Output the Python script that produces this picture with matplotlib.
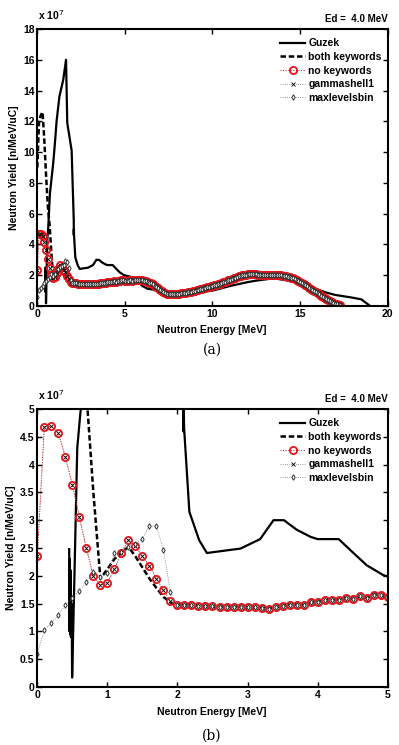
import numpy as np
import matplotlib
matplotlib.use("Agg")
import matplotlib.pyplot as plt

# ---------------- data (yield in units of 1e7 n/MeV/uC) ----------------
energy_grid = np.round(np.arange(0, 17.35, 0.1), 2)  # 0.0 .. 17.3 MeV bins

no_keywords = [
    2.36, 4.68, 4.69, 4.57, 4.14, 3.64, 3.06, 2.50, 1.99, 1.83,
    1.87, 2.12, 2.41, 2.65, 2.54, 2.35, 2.18, 1.95, 1.74, 1.54,
    1.48, 1.47, 1.47, 1.46, 1.45, 1.45, 1.44, 1.44, 1.44, 1.44,
    1.43, 1.43, 1.42, 1.41, 1.43, 1.46, 1.48, 1.48, 1.47, 1.52,
    1.53, 1.56, 1.56, 1.57, 1.60, 1.58, 1.63, 1.60, 1.66, 1.66,
    1.62, 1.63, 1.64, 1.66, 1.65, 1.67, 1.66, 1.68, 1.66, 1.67,
    1.66, 1.64, 1.60, 1.56, 1.52, 1.47, 1.40, 1.32, 1.24, 1.15,
    1.06, 0.97, 0.88, 0.82, 0.80, 0.79, 0.79, 0.80, 0.80, 0.80,
    0.80, 0.81, 0.82, 0.83, 0.85, 0.87, 0.89, 0.92, 0.94, 0.97,
    1.00, 1.03, 1.06, 1.09, 1.12, 1.15, 1.18, 1.21, 1.24, 1.27,
    1.30, 1.34, 1.38, 1.42, 1.46, 1.50, 1.55, 1.59, 1.63, 1.68,
    1.72, 1.76, 1.81, 1.85, 1.89, 1.93, 1.96, 1.99, 2.01, 2.03,
    2.05, 2.05, 2.05, 2.05, 2.05, 2.05, 2.04, 2.04, 2.04, 2.04,
    2.04, 2.04, 2.03, 2.03, 2.02, 2.02, 2.01, 2.01, 2.00, 1.99,
    1.98, 1.96, 1.94, 1.91, 1.88, 1.84, 1.80, 1.75, 1.70, 1.64,
    1.58, 1.51, 1.44, 1.36, 1.28, 1.20, 1.12, 1.04, 0.96, 0.89,
    0.82, 0.75, 0.68, 0.61, 0.54, 0.47, 0.41, 0.34, 0.28, 0.22,
    0.16, 0.11, 0.07, 0.04,
]

# both keywords differs from "no keywords" only below 2 MeV
both_keywords_low = [
    9.00, 12.0, 12.4, 12.6, 10.8, 8.50, 6.50, 5.30, 3.50, 1.95,
    2.12, 2.30, 2.42, 2.52, 2.35, 2.15, 1.95, 1.78, 1.62, 1.52,
]
# maxlevelsbin differs from "no keywords" only below 2 MeV
maxlevelsbin_low = [
    0.60, 1.03, 1.15, 1.29, 1.48, 1.60, 1.73, 1.88, 2.06, 1.97,
    2.05, 2.41, 2.43, 2.52, 2.58, 2.67, 2.90, 2.89, 2.47, 1.70,
]

guzek_e = [0.455, 0.46, 0.465, 0.47, 0.475, 0.48, 0.49, 0.497, 0.53, 0.57,
           0.62, 0.72, 0.91, 1.0, 1.1, 1.26, 1.48, 1.64, 1.71, 1.96,
           2.08, 2.085, 2.09, 2.095, 2.17, 2.31, 2.42, 2.9, 3.18, 3.37,
           3.52, 3.7, 3.9, 4.0, 4.3, 4.52, 4.7, 4.94, 5.0, 5.5,
           6.0, 6.3, 7.0, 7.4, 8.0, 9.0, 10.0, 11.0, 12.0, 12.5,
           13.5, 14.5, 15.5, 16.5, 17.0, 18.0, 18.5, 19.0]
guzek_y = [2.48, 1.0, 2.3, 0.95, 2.1, 0.9, 1.5, 0.17, 2.0, 4.3,
           5.0, 7.3, 9.3, 10.5, 12.0, 13.6, 14.7, 16.0, 11.9, 10.1,
           5.6, 4.6, 5.0, 4.65, 3.15, 2.64, 2.41, 2.49, 2.66, 3.0,
           3.0, 2.83, 2.7, 2.66, 2.66, 2.40, 2.19, 2.01, 1.99, 1.85,
           1.30, 1.12, 1.0, 0.75, 0.75, 0.85, 1.0, 1.3, 1.55, 1.65,
           1.8, 1.62, 1.26, 0.87, 0.72, 0.54, 0.43, 0.0]

n_low = len(both_keywords_low)
both_keywords = both_keywords_low + no_keywords[n_low:]
maxlevelsbin = maxlevelsbin_low + no_keywords[n_low:]
gammashell1 = list(no_keywords)

labels = ["Guzek", "both keywords", "no keywords", "gammashell1", "maxlevelsbin"]

# ---------------- figure ----------------
W, H = 399, 745
fig = plt.figure(figsize=(W / 100, H / 100), dpi=100)
FONT = "Liberation Sans"
fs = 7.5


def fx(px):
    return px / W


def fy(py):
    return 1 - py / H


def panel(ax_rect, xlim, ylim, xticks, yticks, caption, cap_y, xlab_y):
    ax = fig.add_axes(ax_rect)
    ax.plot(guzek_e, guzek_y, color="black", lw=1.6, label=labels[0])
    ax.plot(energy_grid, both_keywords, color="black", lw=1.8, ls=(0, (2.2, 1.1)),
            label=labels[1])
    ax.plot(energy_grid, no_keywords, color="red", lw=0.7, ls=":", marker="o",
            ms=5.2, mfc="none", mec="#e8141b", mew=1.3, label=labels[2])
    ax.plot(energy_grid, gammashell1, color="#777777", lw=0.6, ls=":", marker="x",
            ms=2.2, mec="black", mew=0.6, label=labels[3])
    ax.plot(energy_grid, maxlevelsbin, color="#777777", lw=0.6, ls=":", marker="d",
            ms=2.8, mfc="white", mec="#333333", mew=0.7, label=labels[4])
    ax.set_xlim(*xlim)
    ax.set_ylim(*ylim)
    ax.set_xticks(xticks)
    ax.set_yticks(yticks)
    ax.set_xticklabels(["%g" % t for t in xticks], fontsize=fs, fontweight="bold",
                       family=FONT)
    ax.set_yticklabels(["%g" % t for t in yticks], fontsize=fs, fontweight="bold",
                       family=FONT)
    ax.tick_params(direction="in", top=True, right=True, length=3.5, width=1.0,
                   pad=2)
    for s in ax.spines.values():
        s.set_linewidth(1.5)
    ax.set_ylabel("Neutron Yield [n/MeV/uC]", fontsize=fs, fontweight="bold",
                  family=FONT, labelpad=3)
    leg = ax.legend(loc="upper right", bbox_to_anchor=(1.01, 1.0), frameon=False,
                    prop={"family": FONT, "weight": "bold", "size": fs},
                    handlelength=2.4, handletextpad=0.3, labelspacing=0.35,
                    borderpad=0.4)
    top_px = (1 - (ax_rect[1] + ax_rect[3])) * H
    fig.text(fx(38), fy(top_px - 7), r"x 10$^{7}$", fontsize=fs, fontweight="bold",
             family=FONT, va="bottom", ha="left")
    fig.text(fx(388), fy(top_px - 5), "Ed =  4.0 MeV", fontsize=fs - 0.5,
             fontweight="bold", family=FONT, va="bottom", ha="right")
    fig.text(fx(212), fy(xlab_y), "Neutron Energy [MeV]", fontsize=fs,
             fontweight="bold", family=FONT, ha="center", va="center")
    fig.text(fx(212), fy(cap_y), caption, fontsize=10, family="DejaVu Serif",
             ha="center", va="center")
    return ax


L, R = 37.3, 387.7
panel([fx(L), fy(306), (R - L) / W, (306 - 29) / H], (0, 20), (0, 18),
      [0, 5, 10, 15, 20], list(range(0, 19, 2)), "(a)", 350, 330)
panel([fx(L), fy(687), (R - L) / W, (687 - 409) / H], (0, 5), (0, 5),
      [0, 1, 2, 3, 4, 5], [0, 0.5, 1, 1.5, 2, 2.5, 3, 3.5, 4, 4.5, 5], "(b)", 736, 712)

fig.savefig("out.png", dpi=100)
